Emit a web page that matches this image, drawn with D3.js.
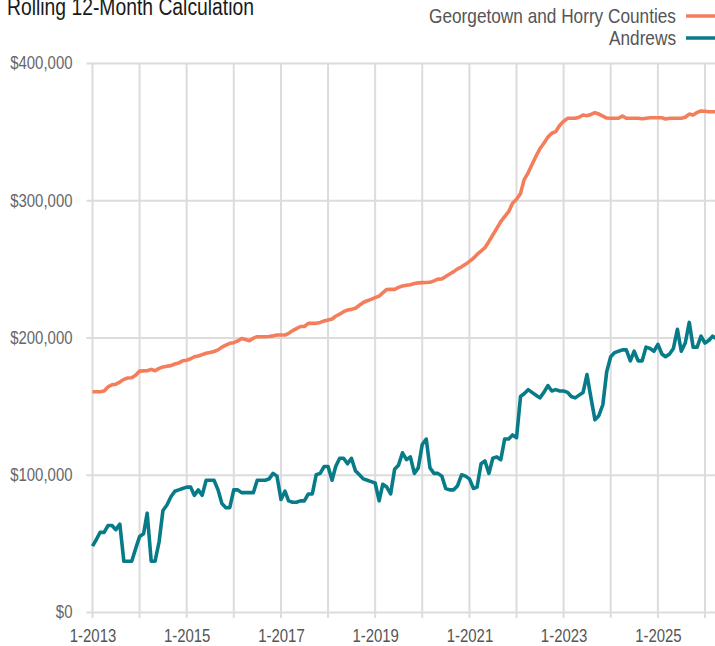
<!DOCTYPE html>
<html>
<head>
<meta charset="utf-8">
<script src="https://cdn.jsdelivr.net/npm/d3@7"></script>
<style>
  body { margin: 0; background: #fff; }
  svg text { font-family: "Liberation Sans", Arial, sans-serif; }
</style>
</head>
<body>
<div id="chart"></div>
<script>
var svgWidth = 715;
var svgHeight = 646;

var margin = {
    top: 63,
    right: 10,
    bottom: 34,
    left: 92.5
};

// monthly values, 1-2013 through 4-2026
var startMonth = new Date(2013, 0, 1);

var georgetownHorry = [
    160.5, 160.5, 160.5, 161, 164, 165.5, 166, 167.5, 169.5, 170.5, 170.7, 172.5,
    175.5, 175.7, 175.8, 176.8, 175.8, 177.5, 178.5, 179, 179.5, 180.7, 181.5, 183,
    183.4, 184.5, 186, 186.5, 187.5, 188.5, 189, 189.8, 191, 193, 194.5, 195.8,
    196.2, 197.5, 199.3, 198.5, 197.7, 199.5, 200.6, 200.6, 200.6, 200.7, 201.2, 201.8,
    201.8, 201.8, 203, 205, 206.5, 208, 208, 210.3, 210.3, 210.3, 211, 212,
    212.8, 213.5, 215.5, 217, 218.8, 220, 220.5, 221.3, 223.5, 225.5, 226.8, 227.8,
    229, 230.2, 232.5, 235, 235.1, 235.1, 236.5, 237.5, 238, 238.5, 239.3, 239.8,
    240, 240.1, 240.2, 241.3, 242.5, 242.6, 244.5, 246.3, 248, 250, 251.5, 253.3,
    255.5, 257.7, 260.5, 263, 265.4, 270, 274.7, 279.5, 284.4, 288, 291.7, 297.8,
    300.7, 305, 315, 320, 326, 332, 337.5, 341.5, 346, 348.8, 350, 354.5,
    357.5, 359.7, 359.7, 359.7, 360.5, 362.1, 361.6, 362.5, 363.8, 362.8, 361.3, 359.9,
    359.7, 359.7, 359.7, 361.4, 359.7, 359.7, 359.7, 359.7, 359.4, 359.8, 360.1, 360.1,
    360.1, 360.1, 359.2, 359.7, 359.7, 359.7, 359.7, 360.5, 362.8, 362.1, 364, 365,
    364.8, 364.5, 364.5, 364.5
];

var andrews = [
    48, 53, 58, 58, 63, 63, 60, 64, 37, 37, 37, 46,
    55, 57, 72, 37, 37, 51, 74, 78, 84, 88, 89, 90,
    91, 91, 85, 89, 85, 96, 96, 96, 89, 79, 76, 76,
    89, 89, 87, 87, 87, 87, 96, 96, 96, 97, 101, 99,
    82, 88, 81, 80, 80, 81, 81, 86, 86, 100, 101, 106,
    106, 96, 106, 112, 112, 108, 112, 103, 100, 97, 96, 95,
    94, 81, 93, 91, 86, 104, 107, 116, 111, 113, 101, 105,
    122, 126, 105, 101, 101, 99, 90, 89, 89, 92, 100, 99,
    97, 90, 91, 108, 110, 101, 112, 113, 111, 126, 126, 129,
    127, 157, 159, 162, 160, 158, 156, 160, 165, 161, 162, 161,
    161, 160, 157, 156, 158, 160, 173, 156, 140, 143, 151, 175,
    186, 189, 190, 191, 191, 183, 190, 183, 183, 193, 192, 190,
    195, 188, 186, 188, 192, 206, 190, 196, 211, 193, 193, 201,
    196, 198, 201, 199
];

var seriesNames = ["Georgetown and Horry Counties", "Andrews"];
var seriesColors = ["#f47d5b", "#087b88"];

var yTicks = [0, 100000, 200000, 300000, 400000];
var xTickYears = [2013, 2015, 2017, 2019, 2021, 2023, 2025];

var height = svgHeight - margin.top - margin.bottom;

var svg = d3
    .select("#chart")
    .append("svg")
    .attr("width", svgWidth)
    .attr("height", svgHeight);

var chartGroup = svg.append("g")
    .attr("transform", `translate(${margin.left}, ${margin.top})`);

// the reference uses a condensed face, so squeeze the text horizontally
function condense(textSel, factor) {
    textSel.each(function() {
        var w = this.getComputedTextLength();
        d3.select(this)
            .attr("textLength", w * factor)
            .attr("lengthAdjust", "spacingAndGlyphs");
    });
}

function monthDate(i) {
    return d3.timeMonth.offset(startMonth, i);
}

var xTimeScale = d3.scaleTime()
    .domain([new Date(2013, 0, 1), new Date(2026, 0, 1)])
    .range([0, 612.5]);

var yLinearScale = d3.scaleLinear()
    .domain([0, 400000])
    .range([height, 0]);

// horizontal grid
var yGrid = chartGroup.append("g")
    .attr("transform", "translate(-6, 0)")
    .call(d3.axisLeft(yLinearScale)
        .tickValues(yTicks)
        .tickSize(0)
        .tickPadding(14)
        .tickFormat(d => d3.format("$,")(d)));

yGrid.select(".domain").remove();
yGrid.selectAll("line")
    .attr("stroke", "#dcdcdc")
    .attr("stroke-width", 2)
    .attr("x1", 0)
    .attr("x2", svgWidth);
yGrid.selectAll("text")
    .attr("fill", "#666")
    .attr("font-size", "18px")
    .attr("x", -14)
    .call(condense, 0.83);

// vertical grid, one line per year
var yearLines = d3.range(2013, 2027).map(y => new Date(y, 0, 1));

chartGroup.append("g")
    .selectAll("line")
    .data(yearLines)
    .enter()
    .append("line")
    .attr("x1", d => xTimeScale(d))
    .attr("x2", d => xTimeScale(d))
    .attr("y1", 0)
    .attr("y2", height + 6)
    .attr("stroke", "#dcdcdc")
    .attr("stroke-width", 2);

var xAxis = chartGroup.append("g")
    .attr("transform", `translate(0, ${height})`)
    .call(d3.axisBottom(xTimeScale)
        .tickValues(xTickYears.map(y => new Date(y, 0, 1)))
        .tickSize(0)
        .tickPadding(17)
        .tickFormat(d3.timeFormat("%-m-%Y")));

xAxis.select(".domain").remove();
xAxis.selectAll("text")
    .attr("fill", "#555")
    .attr("font-size", "18px")
    .call(condense, 0.83);

// lines
var lineGen = d3.line()
    .x((d, i) => xTimeScale(monthDate(i)))
    .y(d => yLinearScale(d * 1000));

[georgetownHorry, andrews].forEach(function(series, k) {
    chartGroup.append("path")
        .datum(series)
        .attr("fill", "none")
        .attr("stroke", seriesColors[k])
        .attr("stroke-width", 3.6)
        .attr("stroke-linejoin", "round")
        .attr("d", lineGen);
});

// title
svg.append("text")
    .attr("x", 7)
    .attr("y", 15)
    .attr("fill", "#1a1a1a")
    .attr("font-size", "23px")
    .text("Rolling 12-Month Calculation")
    .call(condense, 0.84);

// legend
var legend = svg.append("g");

seriesNames.forEach(function(name, k) {
    var ly = 16 + k * 22;
    legend.append("text")
        .attr("x", 676)
        .attr("y", ly)
        .attr("dy", "0.35em")
        .attr("text-anchor", "end")
        .attr("fill", "#555")
        .attr("font-size", "21px")
        .text(name)
        .call(condense, 0.82);
    legend.append("line")
        .attr("x1", 686)
        .attr("x2", 720)
        .attr("y1", ly)
        .attr("y2", ly)
        .attr("stroke", seriesColors[k])
        .attr("stroke-width", 3.5);
});
</script>
</body>
</html>
